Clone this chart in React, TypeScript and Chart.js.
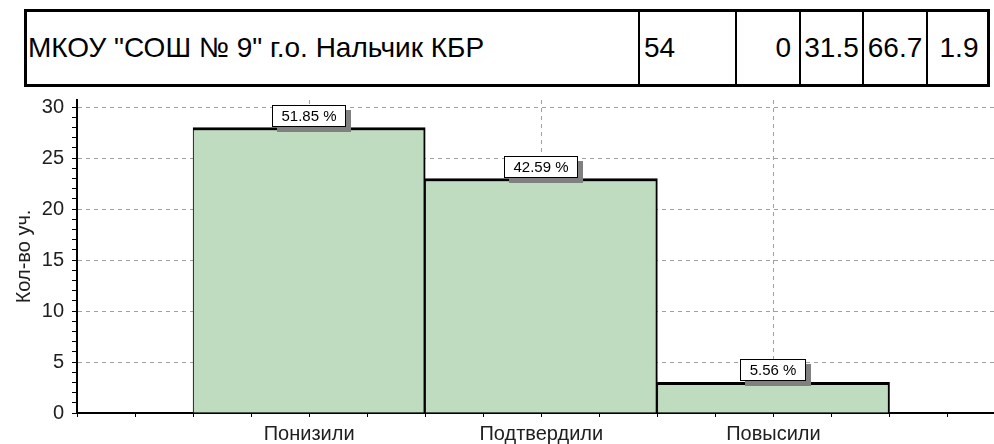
import React, { useEffect, useRef } from 'react';
import { Chart, registerables } from 'chart.js';

Chart.register(...registerables);

// ---- data ----
const categories = ['Понизили', 'Подтвердили', 'Повысили'];
const counts = [28, 23, 3];
const yTitle = 'Кол-во уч.';
const tableName = 'МКОУ "СОШ № 9" г.о. Нальчик КБР';
const tableValues = ['54', '0', '31.5', '66.7', '1.9'];
const yMajorTicks = [5, 10, 15, 20, 25, 30];

// ---- layout constants ----
const W = 994;
const H = 444;
const FONT = "'Liberation Sans', Arial, sans-serif";
const X_MAX = 3.95;
const Y_MAX = 30.7;
const colEdges = [24, 638, 735, 799, 862, 926, 990];
const cellAlign: Array<'left' | 'right' | 'center'> = ['left', 'left', 'right', 'center', 'center', 'center'];
const cellPad = [2, 4, 8, 0, 0, 0];

const total = counts.reduce((a, b) => a + b, 0);
const pctLabels = counts.map((c) => (c / total * 100).toFixed(2) + ' %');

const labelPlugin = {
  id: 'pctLabels',
  afterDatasetsDraw(chart: any) {
    const ctx = chart.ctx;
    const meta = chart.getDatasetMeta(0);
    ctx.save();
    ctx.font = `15px ${FONT}`;
    meta.data.forEach((el: any, i: number) => {
      const { x, y } = el.getProps(['x', 'y'], true);
      const text = pctLabels[i];
      const w = Math.round(ctx.measureText(text).width + 19);
      const h = 22;
      const left = Math.round(x - w / 2);
      const top = Math.round(y - 1 - h);
      ctx.fillStyle = '#808080';
      ctx.fillRect(left + 5, top + 5, w, h);
      ctx.fillStyle = '#ffffff';
      ctx.fillRect(left, top, w, h);
      ctx.strokeStyle = '#000';
      ctx.lineWidth = 1;
      ctx.strokeRect(left + 0.5, top + 0.5, w - 1, h - 1);
      ctx.fillStyle = '#000';
      ctx.textAlign = 'center';
      ctx.textBaseline = 'middle';
      ctx.fillText(text, left + w / 2, top + h / 2 + 1);
    });
    ctx.restore();
  },
};

export default function App() {
  const canvasRef = useRef<HTMLCanvasElement | null>(null);

  useEffect(() => {
    if (!canvasRef.current) return;
    const chart = new Chart(canvasRef.current, {
      type: 'bar',
      data: {
        datasets: [
          {
            data: counts.map((c, i) => ({ x: i + 1, y: c })),
            backgroundColor: '#C0DCC0',
            borderColor: '#000',
            borderWidth: { top: 3, left: 1, right: 2, bottom: 0 },
            borderSkipped: 'start',
            categoryPercentage: 1,
            barPercentage: 1,
            xAxisID: 'x',
            yAxisID: 'y',
          } as any,
        ],
      },
      options: {
        animation: false,
        responsive: false,
        maintainAspectRatio: false,
        devicePixelRatio: 1,
        layout: { padding: { top: 100, left: 0, right: 0, bottom: 0 } },
        plugins: { legend: { display: false }, tooltip: { enabled: false } },
        scales: {
          xm: {
            type: 'linear',
            axis: 'x',
            position: 'bottom',
            weight: 0,
            min: 0,
            max: X_MAX,
            bounds: 'data',
            offset: false,
            ticks: { display: false, stepSize: 0.25, includeBounds: false },
            grid: { offset: false, drawOnChartArea: false, drawTicks: true, tickLength: 4, tickColor: '#000' },
            border: { display: false },
            afterBuildTicks: (s: any) => {
              s.ticks = s.ticks.filter((t: any) => Number.isInteger(Math.round(t.value * 1000) / 250));
            },
            afterFit: (s: any) => {
              s.height = 0;
            },
          },
          x: {
            type: 'linear',
            position: 'bottom',
            weight: 1,
            min: 0,
            max: X_MAX,
            bounds: 'data',
            offset: false,
            ticks: {
              stepSize: 1,
              includeBounds: false,
              autoSkip: false,
              maxRotation: 0,
              padding: 5,
              color: '#202020',
              font: { family: FONT, size: 20 },
              callback: (v: any) => categories[Number(v) - 1] ?? '',
            },
            grid: {
              offset: false,
              tickLength: 4,
              tickColor: '#000',
              lineWidth: 1,
              color: (c: any) => (c.tick && c.tick.value >= 1 ? '#a0a0a0' : 'transparent'),
            },
            border: { display: true, color: '#000', width: 2, dash: [4, 4] },
            afterBuildTicks: (s: any) => {
              s.ticks = s.ticks.filter((t: any) => Number.isInteger(t.value));
            },
            afterFit: (s: any) => {
              s.height = 31;
            },
          },
          y: {
            type: 'linear',
            position: 'left',
            min: 0,
            max: Y_MAX,
            bounds: 'data',
            ticks: {
              stepSize: 1,
              includeBounds: false,
              autoSkip: false,
              padding: 8,
              color: '#202020',
              font: { family: FONT, size: 20 },
              callback: (v: any) => (Number(v) === 0 || yMajorTicks.includes(Number(v)) ? String(v) : ''),
            },
            grid: {
              tickLength: 5,
              tickColor: '#000',
              lineWidth: 1,
              color: (c: any) => (c.tick && yMajorTicks.includes(c.tick.value) ? '#a0a0a0' : 'transparent'),
            },
            border: { display: true, color: '#000', width: 2, dash: [4, 4] },
            title: {
              display: true,
              text: yTitle,
              color: '#202020',
              font: { family: FONT, size: 20 },
              padding: { top: 12, bottom: 0 },
            },
            afterBuildTicks: (s: any) => {
              s.ticks = s.ticks.filter((t: any) => Number.isInteger(t.value));
            },
            afterFit: (s: any) => {
              s.width = 77;
            },
          },
        },
      } as any,
      plugins: [labelPlugin],
    });
    return () => chart.destroy();
  }, []);

  const cells = [tableName, ...tableValues];

  return (
    <div style={{ position: 'absolute', left: 0, top: 0, width: W, height: H, background: '#fff' }}>
      <canvas ref={canvasRef} width={W} height={H} style={{ position: 'absolute', left: 0, top: 0, display: 'block' }} />
      <div
        style={{
          position: 'absolute',
          left: colEdges[0],
          top: 9,
          width: colEdges[colEdges.length - 1] - colEdges[0],
          height: 78,
          boxSizing: 'border-box',
          border: '3px solid #000',
          background: '#fff',
        }}
      />
      {cells.map((txt, i) => (
        <div
          key={i}
          style={{
            position: 'absolute',
            left: colEdges[i],
            top: 9,
            width: colEdges[i + 1] - colEdges[i],
            height: 78,
            boxSizing: 'border-box',
            borderLeft: i > 0 ? '2px solid #000' : 'none',
            paddingLeft: cellAlign[i] === 'left' ? cellPad[i] + (i === 0 ? 2 : 0) : 0,
            paddingRight: cellAlign[i] === 'right' ? cellPad[i] : 0,
            textAlign: cellAlign[i],
            font: `28px ${FONT}`,
            lineHeight: '78px',
            color: '#000',
            whiteSpace: 'nowrap',
          }}
        >
          {txt}
        </div>
      ))}
    </div>
  );
}
